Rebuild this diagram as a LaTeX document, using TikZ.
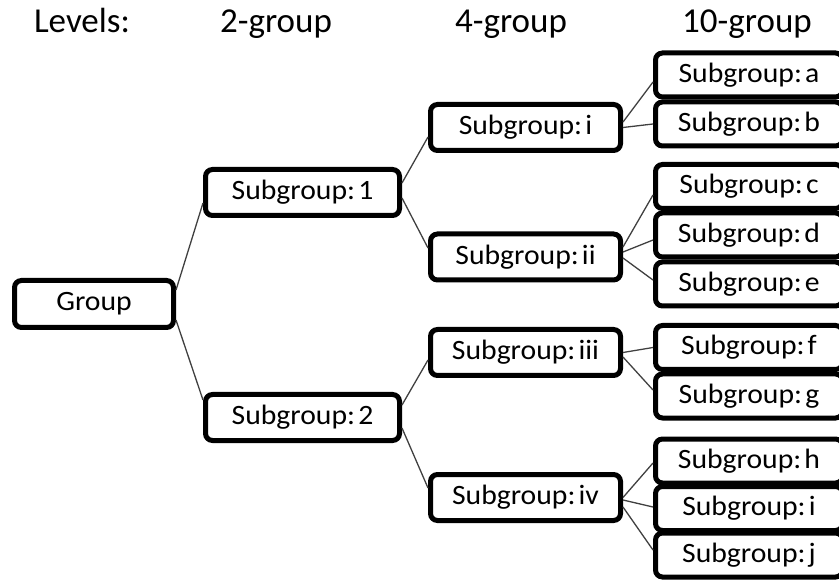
\documentclass[tikz,border=0pt]{standalone}
\usepackage{fontspec}
\setmainfont{Carlito}
\newcommand{\bt}[1]{\scalebox{1.06}[1]{#1}}
\newcommand{\sg}[1]{\bt{Subgroup:\hspace{3pt}#1}}
\tikzset{
  lvl/.style={anchor=base, font=\fontsize{35}{40}\selectfont, inner sep=0pt},
  bx/.style={draw=black, line width=5pt, rounded corners=7pt, fill=white,
    inner sep=0pt, font=\fontsize{28}{32}\selectfont},
  gbox/.style={bx, minimum width=159pt, minimum height=47pt},
  sbox/.style={bx, minimum width=194pt, minimum height=46pt},
  fbox/.style={bx, minimum width=190pt, minimum height=46pt},
  tbox/.style={bx, minimum width=187pt, minimum height=44pt},
  conn/.style={draw=black!75, line width=1.3pt}
}
\begin{document}
\begin{tikzpicture}[x=1pt, y=-1pt]
\useasboundingbox (0,0) rectangle (839,580);
\clip (0,0) rectangle (839,580);
% level headings
\node[lvl] (L0) at (82,33) {Levels:};
\node[lvl] (L1) at (276,33) {2-group};
\node[lvl] (L2) at (511,33) {4-group};
\node[lvl] (L3) at (747,33) {10-group};
% nodes
\node[gbox] (g) at (94,304) {\bt{Group}};
\node[sbox] (s1) at (302.5,192.5) {\sg{1}};
\node[sbox] (s2) at (302.5,417.5) {\sg{2}};
\node[fbox] (fi) at (525.5,127.5) {\sg{i}};
\node[fbox] (fii) at (525.5,257) {\sg{ii}};
\node[fbox] (fiii) at (525.5,352.5) {\sg{iii}};
\node[fbox] (fiv) at (525.5,497.5) {\sg{iv}};
\node[tbox] (ta) at (749,75) {\sg{a}};
\node[tbox] (tb) at (749,124) {\sg{b}};
\node[tbox] (tc) at (749,186.5) {\sg{c}};
\node[tbox] (td) at (749,235) {\sg{d}};
\node[tbox] (te) at (749,284) {\sg{e}};
\node[tbox] (tf) at (749,347.5) {\sg{f}};
\node[tbox] (tg) at (749,396) {\sg{g}};
\node[tbox] (th) at (749,461) {\sg{h}};
\node[tbox] (ti) at (749,508.5) {\sg{i}};
\node[tbox] (tj) at (749,555) {\sg{j}};
% connectors
\draw[conn] ([yshift=14pt]g.east) -- ([yshift=-10.5pt]s1.west);
\draw[conn] ([yshift=-16pt]g.east) -- ([yshift=17.5pt]s2.west);
\draw[conn] ([yshift=9.5pt]s1.east) -- ([yshift=-9.5pt]fi.west);
\draw[conn] ([yshift=-5.5pt]s1.east) -- ([yshift=9pt]fii.west);
\draw[conn] ([yshift=12.5pt]s2.east) -- ([yshift=-7.5pt]fiii.west);
\draw[conn] ([yshift=-10.5pt]s2.east) -- ([yshift=9.5pt]fiv.west);
\draw[conn] ([yshift=5.5pt]fi.east) -- ([yshift=-7pt]ta.west);
\draw[conn] ([yshift=0pt]fi.east) -- ([yshift=0pt]tb.west);
\draw[conn] ([yshift=10pt]fii.east) -- ([yshift=-8.5pt]tc.west);
\draw[conn] ([yshift=5pt]fii.east) -- ([yshift=-5pt]td.west);
\draw[conn] ([yshift=-1pt]fii.east) -- ([yshift=4pt]te.west);
\draw[conn] ([yshift=0pt]fiii.east) -- ([yshift=0pt]tf.west);
\draw[conn] ([yshift=-4.5pt]fiii.east) -- ([yshift=6pt]tg.west);
\draw[conn] ([yshift=0pt]fiv.east) -- ([yshift=-2pt]th.west);
\draw[conn] ([yshift=-2.5pt]fiv.east) -- ([yshift=1.5pt]ti.west);
\draw[conn] ([yshift=-9.5pt]fiv.east) -- ([yshift=5pt]tj.west);
\end{tikzpicture}
\end{document}
